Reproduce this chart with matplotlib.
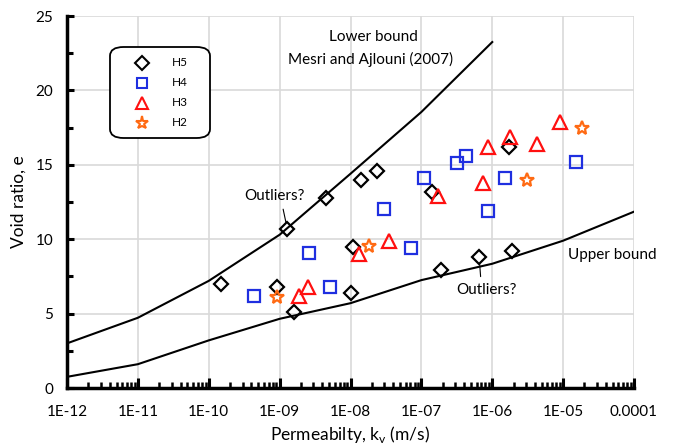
import matplotlib
matplotlib.use("Agg")
import matplotlib.pyplot as plt
from matplotlib.ticker import LogLocator, FixedLocator, NullFormatter
from matplotlib.patches import FancyBboxPatch
from matplotlib.lines import Line2D

plt.rcParams['font.family'] = ['Lato', 'DejaVu Sans']

# ---- data ----
h5_k = [1.5e-10, 9.1e-10, 1.6e-9, 1.29e-9, 4.45e-9, 1.0e-8, 1.1e-8, 1.4e-8, 2.4e-8,
        1.4e-7, 1.9e-7, 6.5e-7, 1.9e-6, 1.7e-6]
h5_e = [7.0, 6.8, 5.1, 10.7, 12.8, 6.4, 9.5, 14.0, 14.6, 13.2, 7.9, 8.8, 9.2, 16.2]

h4_k = [4.3e-10, 2.57e-9, 5.2e-9, 3.0e-8, 7.2e-8, 8.6e-7, 1.1e-7, 3.2e-7, 4.2e-7, 1.5e-6, 1.5e-5]
h4_e = [6.2, 9.1, 6.8, 12.0, 9.4, 11.9, 14.1, 15.1, 15.6, 14.1, 15.2]

h3_k = [1.9e-9, 2.5e-9, 1.3e-8, 3.5e-8, 1.7e-7, 7.4e-7, 8.7e-7, 1.8e-6, 4.3e-6, 9.1e-6]
h3_e = [6.2, 6.8, 9.0, 9.9, 12.9, 13.8, 16.2, 16.9, 16.4, 17.9]

h2_k = [9.3e-10, 1.8e-8, 3.1e-6, 1.86e-5]
h2_e = [6.1, 9.55, 14.0, 17.5]

lower_k = [1e-12, 1e-11, 1e-10, 1e-9, 1e-8, 1e-7, 1e-6]
lower_e = [3.0, 4.72, 7.2, 10.3, 14.4, 18.55, 23.25]

upper_k = [1e-12, 1e-11, 1e-10, 1e-9, 1e-8, 1e-7, 1e-6, 1e-5, 1e-4]
upper_e = [0.75, 1.6, 3.2, 4.65, 5.7, 7.25, 8.35, 9.9, 11.85]

xtick_vals = [1e-12, 1e-11, 1e-10, 1e-9, 1e-8, 1e-7, 1e-6, 1e-5, 1e-4]
xtick_labels = ['1E-12', '1E-11', '1E-10', '1E-09', '1E-08', '1E-07', '1E-06', '1E-05', '0.0001']
ytick_vals = [0, 5, 10, 15, 20, 25]

series_labels = ['H5', 'H4', 'H3', 'H2']

# ---- figure ----
fig = plt.figure(figsize=(6.75, 4.45), dpi=100)
ax = fig.add_axes([67/675, 1-388/445, (634-67)/675, (388-16)/445])
ax.set_xscale('log')
ax.set_xlim(1e-12, 1e-4)
ax.set_ylim(0, 25)

ax.grid(True, which='major', color='#d9d9d9', linewidth=1.2, zorder=0)
ax.set_axisbelow(True)

ax.plot(lower_k, lower_e, color='black', lw=1.5, zorder=2)
ax.plot(upper_k, upper_e, color='black', lw=1.5, zorder=2)

styles = [('D', 'black', 7.5), ('s', '#1f2fe0', 8.5), ('^', '#ff1010', 9.5), ('*', '#ff6a13', 10.5)]
mk = dict(linestyle='none', markerfacecolor='none', markeredgewidth=1.6, zorder=3)
for (m, c, ms), kx, ey in zip(styles, [h5_k, h4_k, h3_k, h2_k], [h5_e, h4_e, h3_e, h2_e]):
    ax.plot(kx, ey, marker=m, markersize=ms, markeredgecolor=c, **mk)

# spines
for s in ['top', 'right']:
    ax.spines[s].set_visible(False)
for s in ['left', 'bottom']:
    ax.spines[s].set_linewidth(2.5)

ax.xaxis.set_major_locator(FixedLocator(xtick_vals))
ax.set_xticklabels(xtick_labels)
ax.xaxis.set_minor_locator(LogLocator(base=10, subs=range(2, 10), numticks=20))
ax.xaxis.set_minor_formatter(NullFormatter())
ax.tick_params(axis='x', which='major', direction='in', length=7, width=2.2, labelsize=11, pad=12)
ax.tick_params(axis='x', which='minor', direction='in', length=4, width=1.8)

ax.set_yticks(ytick_vals)
ax.yaxis.set_minor_locator(FixedLocator([2.5, 7.5, 12.5, 17.5, 22.5]))
ax.tick_params(axis='y', which='major', direction='in', length=5, width=2.2, labelsize=11, pad=10)
ax.tick_params(axis='y', which='minor', direction='in', length=4, width=2.2)

ax.set_xlabel('Permeabilty, k$_\\mathregular{v}$ (m/s)', fontsize=12.5, labelpad=4)
ax.set_ylabel('Void ratio, e', fontsize=12.5, labelpad=6)

# annotations
ax.text(2.1e-8, 23.6, 'Lower bound', ha='center', va='center', fontsize=11)
ax.text(1.9e-8, 22.1, 'Mesri and Ajlouni (2007)', ha='center', va='center', fontsize=11)
ax.text(8.5e-10, 12.9, 'Outliers?', ha='center', va='center', fontsize=11)
ax.annotate('', xy=(1.25e-9, 10.95), xytext=(1.1e-9, 12.2),
            arrowprops=dict(arrowstyle='-', color='black', lw=0.8))
ax.text(8.2e-7, 6.6, 'Outliers?', ha='center', va='center', fontsize=11)
ax.annotate('', xy=(6.6e-7, 8.5), xytext=(6.9e-7, 7.3),
            arrowprops=dict(arrowstyle='-', color='black', lw=0.8))
ax.text(5.0e-5, 8.94, 'Upper bound', ha='center', va='center', fontsize=11)

# legend box
box = FancyBboxPatch((110/675, 1-138/445), 100/675, 91/445,
                     boxstyle='round,pad=0,rounding_size=0.02',
                     transform=fig.transFigure, facecolor='white',
                     edgecolor='black', linewidth=1.3, zorder=5)
fig.patches.append(box)
for i, (lab, (m, c, ms)) in enumerate(zip(series_labels, styles)):
    yy = 1 - (63 + 20*i)/445
    fig.add_artist(Line2D([142/675], [yy], marker=m, markersize=ms*0.9, markerfacecolor='none',
                          markeredgecolor=c, markeredgewidth=1.5, linestyle='none',
                          transform=fig.transFigure, zorder=6))
    fig.text(172/675, yy, lab, ha='left', va='center', fontsize=8.5, zorder=6)

fig.savefig('out.png', dpi=100)
